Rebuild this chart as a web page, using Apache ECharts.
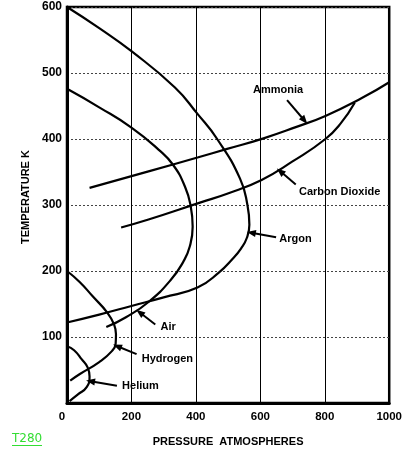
<!DOCTYPE html>
<html>
<head>
<meta charset="utf-8">
<script src="https://cdn.jsdelivr.net/npm/echarts@6/dist/echarts.min.js"></script>
<style>
html,body{margin:0;padding:0;background:#fff;}
#c{width:405px;height:452px;}
</style>
</head>
<body>
<div id="c"></div>
<script>
// Tick labels
const pressureTicks = [0, 200, 400, 600, 800, 1000];
const temperatureTicks = [0, 100, 200, 300, 400, 500, 600];

// Inversion curves: [pressure (atm), temperature (K)]
const ammonia = [[70,326],[253,351],[405,372],[497,385],[610,401],[710,418],[802,435],[915,462],[1000,486]];
const carbonDioxide = [[168,266],[253,278],[415,304],[497,317],[604,338],[700,366],[802,400],[850,424],[893,455]];
const argon = [[0,600],[100,568],[200,533],[335,478],[405,438],[466,400],[537,340],[560,300],[566,270],[558,250],[540,234],[515,219],[472,198],[405,175],[300,160],[200,147],[100,134],[0,122]];
const air = [[0,476],[100,448],[201,417],[284,384],[329,361],[366,328],[384,298],[390,267],[381,237],[362,215],[323,187],[253,153],[183,130],[122,115]];
const hydrogen = [[0,200],[40,183],[79,162],[125,137],[146,119],[152,104],[151,90],[140,79],[100,62],[40,44],[10,34]];
const helium = [[0,86],[22,80],[46,66],[64,54],[70,40],[61,24],[34,13],[8,3]];

// Annotation labels and arrows (data coordinates)
const gasNames = ['Ammonia','Carbon Dioxide','Argon','Air','Hydrogen','Helium'];
const gasData = [ammonia, carbonDioxide, argon, air, hydrogen, helium];
const labelAt = [[655,475],[720,320],[659,249],[290,115],[232,66],[171,26]];
const labelAlign = ['center','left','left','left','left','left'];
const arrowTail = [[683,459],[710,331],[649,251],[274,119],[216,74],[155,26]];
const arrowTip = [[737,428],[662,351],[572,258],[226,137],[156,86],[73,33]];

const chart = echarts.init(document.getElementById('c'), null, {renderer:'canvas'});

const series = gasNames.map((name, i) => ({
  name: name,
  type: 'line',
  data: gasData[i],
  smooth: 0.5,
  showSymbol: false,
  symbol: 'none',
  lineStyle: {color:'#000', width:2.2},
  animation: false,
  markLine: {
    silent: true,
    animation: false,
    symbol: ['none','triangle'],
    symbolSize: [7, 9],
    label: {show:false},
    lineStyle: {color:'#000', width:2, type:'solid'},
    data: [[{coord: arrowTail[i]}, {coord: arrowTip[i]}]]
  }
}));

chart.setOption({
  backgroundColor: '#fff',
  animation: false,
  grid: {left:67, right:10, top:7, bottom:48, show:true, borderColor:'#000', borderWidth:2.5, backgroundColor:'transparent'},
  xAxis: {
    type: 'value', min: pressureTicks[0], max: pressureTicks[pressureTicks.length-1], interval: 200,
    name: 'PRESSURE  ATMOSPHERES', nameLocation: 'middle', nameGap: 33,
    nameTextStyle: {fontFamily:'Liberation Sans', fontWeight:'bold', fontSize:11, color:'#000'},
    axisLine: {show:true, lineStyle:{color:'#000', width:3}},
    axisTick: {show:false},
    axisLabel: {
      margin: 8, color:'#000', fontFamily:'Liberation Sans', fontWeight:'bold', fontSize:11.5,
      formatter: v => pressureTicks.indexOf(v) === 0 ? '{z|' + v + '}' : String(v),
      rich: {z: {fontFamily:'Liberation Sans', fontWeight:'bold', fontSize:11.5, color:'#000', padding:[0,10,5,0]}}
    },
    splitLine: {show:true, lineStyle:{color:'#000', width:1, type:'solid'}}
  },
  yAxis: {
    type: 'value', min: temperatureTicks[0], max: temperatureTicks[temperatureTicks.length-1], interval: 100,
    name: 'TEMPERATURE K', nameLocation: 'middle', nameGap: 35, nameRotate: 90,
    nameTextStyle: {fontFamily:'Liberation Sans', fontWeight:'bold', fontSize:11, color:'#000', padding:[0,0,0,16]},
    axisLine: {show:true, lineStyle:{color:'#000', width:3}},
    axisTick: {show:false},
    axisLabel: {
      margin: 5, color:'#000', fontFamily:'Liberation Sans', fontWeight:'bold', fontSize:12,
      formatter: v => v === temperatureTicks[0] ? '' : String(v)
    },
    splitLine: {show:true, lineStyle:{color:'#444', width:1, type:[2,2]}}
  },
  series: series
});

const graphics = gasNames.map((name, i) => {
  const p = chart.convertToPixel({gridIndex:0}, labelAt[i]);
  return {
    type: 'text', x: p[0], y: p[1], silent: true,
    style: {text: name, fill:'#000', font:'bold 11px "Liberation Sans"', textAlign: labelAlign[i], textVerticalAlign:'middle'}
  };
});
graphics.push({
  type: 'text', x: 12, y: 433, silent: true,
  style: {text: 'T280', fill:'#33dd33', font:'12px "DejaVu Sans"', textAlign:'left', textVerticalAlign:'top'}
});
graphics.push({
  type: 'line', silent: true,
  shape: {x1: 12, y1: 445.5, x2: 42, y2: 445.5},
  style: {stroke:'#33dd33', lineWidth:1}
});
chart.setOption({graphic: graphics});
</script>
</body>
</html>
